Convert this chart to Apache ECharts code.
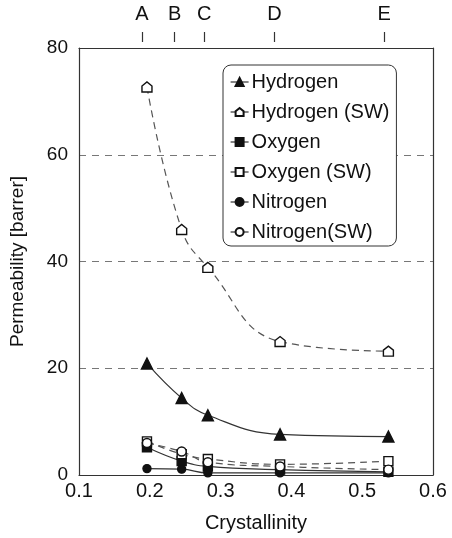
<!DOCTYPE html>
<html><head><meta charset="utf-8">
<script src="https://cdn.jsdelivr.net/npm/echarts@6/dist/echarts.min.js"></script>
<style>html,body{margin:0;padding:0;background:#fff}#c{width:452px;height:538px}</style>
</head><body><div id="c"></div>
<script>
const crystallinity = [0.196, 0.245, 0.282, 0.384, 0.537];
const hydrogen     = [20.9, 14.4, 11.2, 7.6, 7.2];
const hydrogenSW   = [72.7, 46.0, 38.9, 25.0, 23.2];
const oxygen       = [5.2, 2.6, 1.6, 1.0, 0.6];
const oxygenSW     = [6.3, 3.9, 3.0, 2.0, 2.6];
const nitrogen     = [1.2, 1.1, 0.4, 0.4, 0.4];
const nitrogenSW   = [6.0, 4.4, 2.4, 1.6, 1.0];
const sampleLetters = ['A', 'B', 'C', 'D', 'E'];
const samplePos     = [0.189, 0.235, 0.277, 0.376, 0.531];
const xTicks = [0.1, 0.2, 0.3, 0.4, 0.5, 0.6];
const yTicks = [0, 20, 40, 60, 80];

const font = 'Liberation Sans, Arial, sans-serif';
const pair = arr => crystallinity.map((x, i) => [x, arr[i]]);
const house = 'path://M0,4 L5,0 L10,4 L10,10 L0,10 Z';

function mk(name, data, symbol, filled, dashed, size) {
  return {
    name, type: 'line', data: pair(data), smooth: 0.45,
    symbol, symbolSize: size, xAxisIndex: 0, yAxisIndex: 0,
    lineStyle: { color: dashed ? '#555' : '#333', width: 1.2, type: dashed ? [7, 5] : 'solid' },
    itemStyle: { color: filled ? '#111' : '#fff', borderColor: '#111', borderWidth: 1.4 },
    emphasis: { disabled: true }
  };
}

const chart = echarts.init(document.getElementById('c'));
chart.setOption({
  animation: false,
  backgroundColor: '#fff',
  grid: { left: 78, right: 19, top: 48, bottom: 61 },
  legend: {
    orient: 'vertical', left: 223, top: 65,
    padding: [7, 7, 4, 7], itemGap: 10, itemWidth: 18, itemHeight: 10,
    backgroundColor: '#fff', borderColor: '#333', borderWidth: 1, borderRadius: 8,
    textStyle: { fontFamily: font, fontSize: 20, color: '#111', padding: [0, 0, 0, -2] },
    lineStyle: { type: 'solid', width: 1.2, color: '#333' },
    data: ['Hydrogen', 'Hydrogen (SW)', 'Oxygen', 'Oxygen (SW)', 'Nitrogen', 'Nitrogen(SW)']
  },
  xAxis: [
    {
      type: 'value', position: 'bottom', min: 0.1, max: 0.6, interval: 0.1,
      name: 'Crystallinity', nameLocation: 'middle', nameGap: 38,
      nameTextStyle: { fontFamily: font, fontSize: 20, color: '#111' },
      axisLine: { show: true, lineStyle: { color: '#333', width: 1.2 } },
      axisTick: { show: false },
      axisLabel: { fontFamily: font, fontSize: 20, color: '#111', margin: 6,
        customValues: xTicks, formatter: v => v.toFixed(1) },
      splitLine: { show: false }
    },
    {
      type: 'value', position: 'top', min: 0.1, max: 0.6,
      axisLine: { show: true, onZero: false, lineStyle: { color: '#333', width: 1.2 } },
      axisTick: { show: false }, axisLabel: { show: false }, splitLine: { show: false }
    },
    {
      type: 'value', position: 'top', min: 0.1, max: 0.6, offset: 6,
      axisLine: { show: true, onZero: false, lineStyle: { color: 'rgba(0,0,0,0)' } },
      axisTick: { show: true, length: 10, customValues: samplePos, lineStyle: { color: '#333', width: 1.2 } },
      axisLabel: { show: true, customValues: samplePos, margin: 18,
        fontFamily: font, fontSize: 20, color: '#111',
        formatter: v => { const i = samplePos.findIndex(p => Math.abs(p - v) < 1e-6); return i >= 0 ? sampleLetters[i] : ''; } },
      splitLine: { show: false }
    }
  ],
  yAxis: [
    {
      type: 'value', position: 'left', min: 0, max: 80, interval: 20,
      name: 'Permeability [barrer]', nameLocation: 'middle', nameGap: 52,
      nameTextStyle: { fontFamily: font, fontSize: 19, color: '#111' },
      axisLine: { show: true, lineStyle: { color: '#333', width: 1.2 } },
      axisTick: { show: false },
      axisLabel: { fontFamily: font, fontSize: 19, color: '#111', margin: 11, customValues: yTicks },
      splitLine: { show: true, lineStyle: { color: ['rgba(0,0,0,0)', '#777', '#777', '#777', 'rgba(0,0,0,0)'], type: [7, 6], width: 1 } }
    },
    {
      type: 'value', position: 'right', min: 0, max: 80,
      axisLine: { show: true, lineStyle: { color: '#333', width: 1.2 } },
      axisTick: { show: false }, axisLabel: { show: false }, splitLine: { show: false }
    }
  ],
  series: [
    mk('Hydrogen', hydrogen, 'triangle', true, false, 11),
    mk('Hydrogen (SW)', hydrogenSW, house, false, true, 10),
    mk('Oxygen', oxygen, 'rect', true, false, 9),
    mk('Oxygen (SW)', oxygenSW, 'rect', false, true, 9),
    mk('Nitrogen', nitrogen, 'circle', true, false, 8),
    mk('Nitrogen(SW)', nitrogenSW, 'circle', false, true, 9)
  ]
});
</script></body></html>
